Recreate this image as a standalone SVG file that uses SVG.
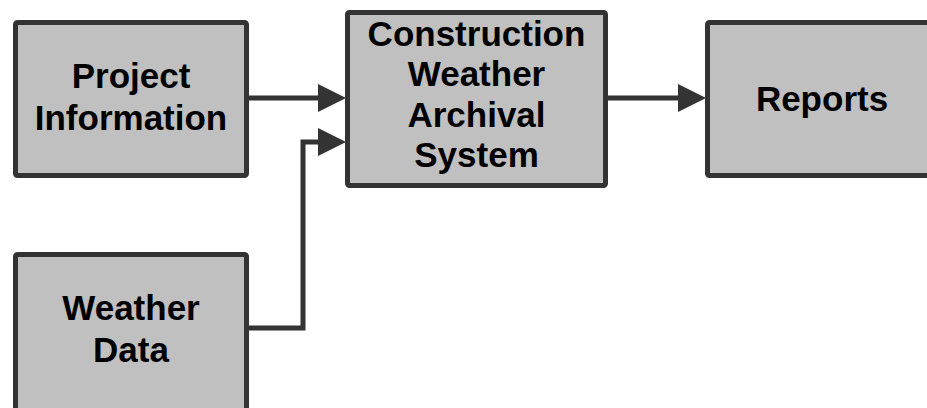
<svg xmlns="http://www.w3.org/2000/svg" width="927" height="408" viewBox="0 0 927 408">
<style>
.box{fill:#c0c0c0;stroke:#333333;stroke-width:5;stroke-linejoin:round}
.lbl{font-family:"Liberation Sans",Arial,sans-serif;font-weight:bold;font-size:35px;fill:#000;text-anchor:middle}
.wire{fill:none;stroke:#333333;stroke-width:5;stroke-linejoin:miter}
.head{fill:#333333;stroke:none}
</style>
<rect width="927" height="408" fill="#ffffff"/>
<g id="connectors">
<path class="wire" d="M248,98 H320"/>
<polygon class="head" points="318,84 346,98 318,112"/>
<path class="wire" d="M248,328 H303 V142 H320"/>
<polygon class="head" points="318,128 346,142 318,156"/>
<path class="wire" d="M608,98 H680"/>
<polygon class="head" points="678,84 706,98 678,112"/>
</g>
<g id="project-information">
<rect class="box" x="15.5" y="22.5" width="231" height="153" rx="2"/>
<text class="lbl" x="131" y="88">Project</text>
<text class="lbl" x="131" y="130">Information</text>
</g>
<g id="weather-data">
<rect class="box" x="15.5" y="254.5" width="231" height="160" rx="2"/>
<text class="lbl" x="131" y="320">Weather</text>
<text class="lbl" x="131" y="362">Data</text>
</g>
<g id="cwas">
<rect class="box" x="347.5" y="12.5" width="258" height="173" rx="2"/>
<text class="lbl" x="476.5" y="46">Construction</text>
<text class="lbl" x="476.5" y="86">Weather</text>
<text class="lbl" x="476.5" y="127">Archival</text>
<text class="lbl" x="476.5" y="167">System</text>
</g>
<g id="reports">
<rect class="box" x="707.5" y="22.5" width="240" height="153" rx="2"/>
<text class="lbl" x="822" y="111">Reports</text>
</g>
</svg>
